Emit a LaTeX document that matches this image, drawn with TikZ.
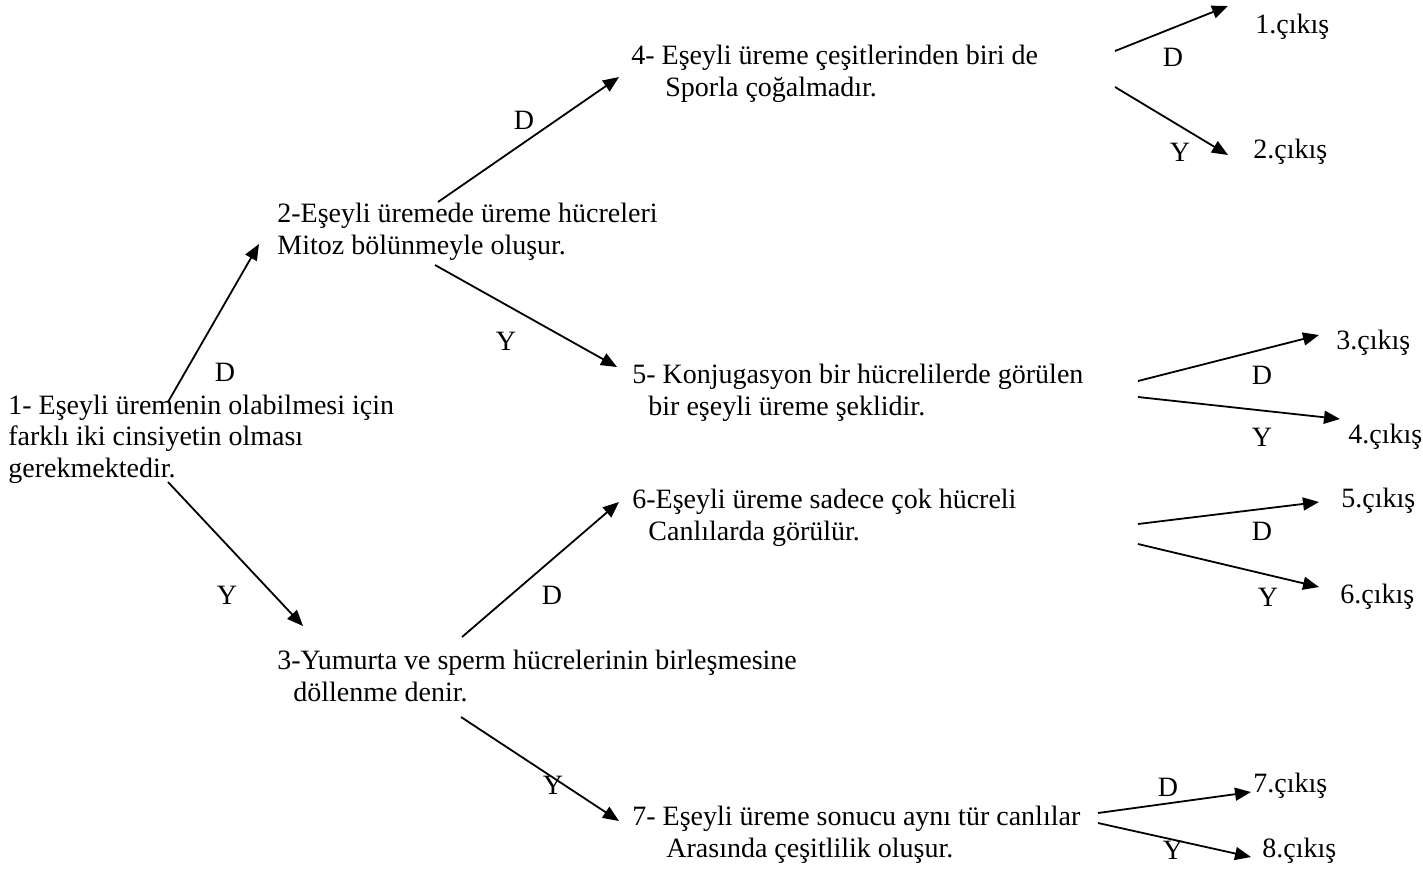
\documentclass[tikz,border=0pt]{standalone}
\usepackage{fontspec}
\setmainfont{Liberation Serif}
\usetikzlibrary{arrows.meta}

\tikzset{
  stmt/.style={anchor=base west, inner sep=0pt, align=left,
    font=\fontsize{14pt}{15.7pt}\selectfont},
  outcome/.style={anchor=base west, inner sep=0pt,
    font=\fontsize{14pt}{15.7pt}\selectfont},
  branch/.style={anchor=center, inner sep=0pt,
    font=\fontsize{14pt}{15.7pt}\selectfont},
  arr/.style={line width=0.9pt, -{Triangle[length=8pt,width=6.5pt]}}
}

\begin{document}
\begin{tikzpicture}[x=0.5pt, y=-0.5pt]
\useasboundingbox (0,0) rectangle (1423,869);

% decision statements (anchored at the baseline of their last line)
\node[stmt] (n1) at (8,477) {1- Eşeyli üremenin olabilmesi için\\farklı iki cinsiyetin olması\\gerekmektedir.};
\node[stmt] (n2) at (277,254) {2-Eşeyli üremede üreme hücreleri\\Mitoz bölünmeyle oluşur.};
\node[stmt] (n3) at (277,701) {3-Yumurta ve sperm hücrelerinin birleşmesine\\\hspace*{8pt}döllenme denir.};
\node[stmt] (n4) at (631,96) {4- Eşeyli üreme çeşitlerinden biri de\\\hspace*{17pt}Sporla çoğalmadır.};
\node[stmt] (n5) at (632,415) {5- Konjugasyon bir hücrelilerde görülen\\\hspace*{8pt}bir eşeyli üreme şeklidir.};
\node[stmt] (n6) at (632,540) {6-Eşeyli üreme sadece çok hücreli\\\hspace*{8pt}Canlılarda görülür.};
\node[stmt] (n7) at (632,857) {7- Eşeyli üreme sonucu aynı tür canlılar\\\hspace*{17pt}Arasında çeşitlilik oluşur.};

% outcomes
\node[outcome] (o1) at (1255,33) {1.çıkış};
\node[outcome] (o2) at (1253,158) {2.çıkış};
\node[outcome] (o3) at (1336,349) {3.çıkış};
\node[outcome] (o4) at (1348,443) {4.çıkış};
\node[outcome] (o5) at (1341,507) {5.çıkış};
\node[outcome] (o6) at (1340,603) {6.çıkış};
\node[outcome] (o7) at (1253,792) {7.çıkış};
\node[outcome] (o8) at (1262,857) {8.çıkış};

% connectors between statements
\draw[arr] ([shift={(160,-75)}]n1.base west) -- ([shift={(-18,-10)}]n2.base west);
\draw[arr] ([shift={(160,5)}]n1.base west) -- ([shift={(26,-75)}]n3.base west);
\draw[arr] ([shift={(161,-52)}]n2.base west) -- ([shift={(-12,-19)}]n4.base west);
\draw[arr] ([shift={(158,11)}]n2.base west) -- ([shift={(-15,-48)}]n5.base west);
\draw[arr] ([shift={(185,-64)}]n3.base west) -- ([shift={(-13,-38)}]n6.base west);
\draw[arr] ([shift={(184,16)}]n3.base west) -- ([shift={(-13,-36)}]n7.base west);

% connectors to outcomes
\draw[arr] ([shift={(484,-45)}]n4.base west) -- ([shift={(-27,-27)}]o1.base west);
\draw[arr] ([shift={(484,-9)}]n4.base west) -- ([shift={(-25,-3)}]o2.base west);
\draw[arr] ([shift={(506,-34)}]n5.base west) -- ([shift={(-17,-14)}]o3.base west);
\draw[arr] ([shift={(506,-18)}]n5.base west) -- ([shift={(-8,-24)}]o4.base west);
\draw[arr] ([shift={(506,-16)}]n6.base west) -- ([shift={(-22,-5)}]o5.base west);
\draw[arr] ([shift={(506,4)}]n6.base west) -- ([shift={(-21,-16)}]o6.base west);
\draw[arr] ([shift={(466,-44)}]n7.base west) -- ([shift={(-2,0)}]o7.base west);
\draw[arr] ([shift={(466,-34)}]n7.base west) -- ([shift={(-11,0)}]o8.base west);

% branch labels
\node[branch] (d12) at (225,372) {D};
\node[branch] (y13) at (227,595) {Y};
\node[branch] (d24) at (524,120) {D};
\node[branch] (y25) at (506,341) {Y};
\node[branch] (d36) at (552,595) {D};
\node[branch] (y37) at (553,785) {Y};
\node[branch] (d4) at (1173,57) {D};
\node[branch] (y4) at (1180,152) {Y};
\node[branch] (d5) at (1262,375) {D};
\node[branch] (y5) at (1262,437) {Y};
\node[branch] (d6) at (1262,531) {D};
\node[branch] (y6) at (1268,597) {Y};
\node[branch] (d7) at (1168,787) {D};
\node[branch] (y7) at (1173,850) {Y};
\end{tikzpicture}
\end{document}
